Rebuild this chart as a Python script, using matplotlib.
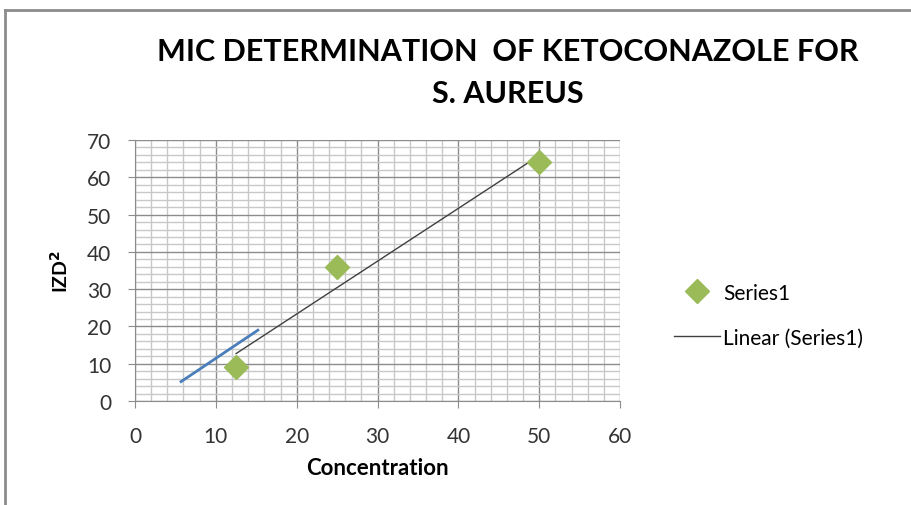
import matplotlib.pyplot as plt
import numpy as np
from matplotlib.lines import Line2D

plt.rcParams['font.family'] = ['Lato', 'DejaVu Sans']

# data
conc = [12.5, 25, 50]
izd2 = [9, 36, 64]
# stray blue line drawn on the sheet
stray_x = [5.7, 15.2]
stray_y = [5.2, 19.0]

x_ticks = [0, 10, 20, 30, 40, 50, 60]
y_ticks = [0, 10, 20, 30, 40, 50, 60, 70]

fig = plt.figure(figsize=(9.12, 5.06), dpi=100)
ax = fig.add_axes([0.148, 0.2055, 0.532, 0.5158])

ax.set_xlim(0, 60)
ax.set_ylim(0, 70)
ax.set_xticks(x_ticks)
ax.set_yticks(y_ticks)
ax.set_xticks(np.arange(0, 61, 2), minor=True)
ax.set_yticks(np.arange(0, 71, 2), minor=True)
ax.grid(which='minor', color='#c8c8c8', linewidth=1.0)
ax.grid(which='major', color='#8c8c8c', linewidth=1.0)
ax.set_axisbelow(True)
ax.tick_params(which='minor', length=0)
ax.tick_params(which='major', length=5, color='#8c8c8c', labelsize=15,
               labelcolor='#333333')
ax.tick_params(axis='x', pad=13)
ax.tick_params(axis='y', pad=12)
for s in ['top', 'right']:
    ax.spines[s].set_visible(False)
for s in ['left', 'bottom']:
    ax.spines[s].set_color('#8c8c8c')

# linear trendline through the points
k, b = np.polyfit(conc, izd2, 1)
tx = np.array([min(conc), max(conc)])
ax.plot(tx, k * tx + b, color='#404040', linewidth=1.0, label='Linear (Series1)', zorder=3)
ax.plot(conc, izd2, linestyle='none', marker='D', markersize=12, color='#9bbb59',
        label='Series1', zorder=4)
ax.plot(stray_x, stray_y, color='#4a7ebb', linewidth=2, zorder=3)

ax.set_xlabel('Concentration', fontsize=16, fontweight='bold', labelpad=8)
ax.set_ylabel('IZD$^\\mathbf{2}$', fontsize=14, fontweight='bold', labelpad=12)

fig.text(0.557, 0.897, 'MIC DETERMINATION  OF KETOCONAZOLE FOR', ha='center', va='center',
         fontsize=22, fontweight='bold', color='#000000')
fig.text(0.557, 0.814, 'S. AUREUS', ha='center', va='center',
         fontsize=22, fontweight='bold', color='#000000')

h, l = ax.get_legend_handles_labels()
fig.legend([h[1], h[0]], [l[1], l[0]], loc='center left', bbox_to_anchor=(0.7185, 0.375),
           frameon=False, handlelength=2.2, labelspacing=1.2,
           handletextpad=0.15, prop={'size': 15})

fig.add_artist(Line2D([0.006, 0.006], [0.0, 0.979], color='#8c8c8c', linewidth=2,
                      transform=fig.transFigure))
fig.add_artist(Line2D([0.006, 1.0], [0.979, 0.979], color='#8c8c8c', linewidth=2,
                      transform=fig.transFigure))

fig.savefig('out.png', dpi=100)
